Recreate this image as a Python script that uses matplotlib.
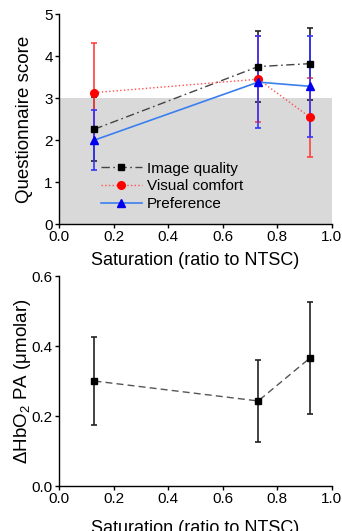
import matplotlib
matplotlib.use("Agg")
import matplotlib.pyplot as plt

plt.rcParams["font.family"] = ["Liberation Sans", "DejaVu Sans"]
plt.rcParams["mathtext.fontset"] = "custom"
plt.rcParams["mathtext.rm"] = "Liberation Sans"
plt.rcParams["mathtext.it"] = "Liberation Sans:italic"

# ── data ──────────────────────────────────────────────────
saturation = [0.13, 0.73, 0.92]

image_quality     = [2.26, 3.75, 3.82]
image_quality_err = [0.76, 0.85, 0.86]
visual_comfort     = [3.13, 3.45, 2.54]
visual_comfort_err = [1.19, 1.03, 0.94]
preference     = [2.00, 3.38, 3.28]
preference_err = [0.71, 1.09, 1.20]

hbo2_pa     = [0.300, 0.243, 0.366]
hbo2_pa_err = [0.126, 0.118, 0.160]

fig = plt.figure(figsize=(3.42, 5.31), dpi=100)
ax1 = fig.add_axes([0.1725, 0.578, 0.798, 0.3955])
ax2 = fig.add_axes([0.1725, 0.0847, 0.798, 0.3955])

# ── top: questionnaire ─────────────────────────────────────
ax = ax1
ax.axhspan(0, 3, color="#d9d9d9", zorder=0, lw=0)
ax.errorbar(saturation, image_quality, yerr=image_quality_err, fmt="none",
            ecolor="#222222", elinewidth=1.2, capsize=2.5, capthick=1.2, zorder=2)
ax.errorbar(saturation, visual_comfort, yerr=visual_comfort_err, fmt="none",
            ecolor="#ff4040", elinewidth=1.2, capsize=2.5, capthick=1.2, zorder=3)
ax.errorbar(saturation, preference, yerr=preference_err, fmt="none",
            ecolor="#3535ff", elinewidth=1.2, capsize=2.5, capthick=1.2, zorder=4)
ax.plot(saturation, image_quality, color="#444444", ls=(0, (6, 2.5, 1.2, 2.5)), lw=1,
        marker="s", ms=5, mfc="black", mec="black", label="Image quality", zorder=5)
ax.plot(saturation, visual_comfort, color="#ff5050", ls=":", lw=1,
        marker="o", ms=5.5, mfc="#ff0000", mec="#ff0000", label="Visual comfort", zorder=5)
ax.plot(saturation, preference, color="#3a7ff0", ls="-", lw=1.2,
        marker="^", ms=5.5, mfc="#0000ee", mec="#0000ee", label="Preference", zorder=6)
ax.set_xlim(0, 1.0)
ax.set_ylim(0, 5)
ax.set_yticks([0, 1, 2, 3, 4, 5])
ax.set_xticks([0.0, 0.2, 0.4, 0.6, 0.8, 1.0])
ax.set_xlabel("Saturation (ratio to NTSC)", fontsize=13)
ax.set_ylabel("Questionnaire score", fontsize=13.5)
ax.xaxis.set_label_coords(0.5, -0.135)
ax.yaxis.set_label_coords(-0.095, 0.5)
ax.legend(loc="lower left", bbox_to_anchor=(0.125, 0.025), frameon=False, fontsize=11,
          handlelength=2.7, handletextpad=0.3, labelspacing=0.25, borderpad=0)

# ── bottom: HbO2 ───────────────────────────────────────────
ax = ax2
ax.errorbar(saturation, hbo2_pa, yerr=hbo2_pa_err, fmt="none",
            ecolor="#222222", elinewidth=1.2, capsize=2.5, capthick=1.2, zorder=2)
ax.plot(saturation, hbo2_pa, color="#555555", ls=(0, (5, 3)), lw=1,
        marker="s", ms=5, mfc="black", mec="black", zorder=3)
ax.set_xlim(0, 1.0)
ax.set_ylim(0, 0.6)
ax.set_yticks([0.0, 0.2, 0.4, 0.6])
ax.set_xticks([0.0, 0.2, 0.4, 0.6, 0.8, 1.0])
ax.set_xlabel("Saturation (ratio to NTSC)", fontsize=13)
ax.set_ylabel(r"ΔHbO$_2$ PA (μmolar)", fontsize=13.5)
ax.xaxis.set_label_coords(0.5, -0.16)
ax.yaxis.set_label_coords(-0.095, 0.5)

for ax in (ax1, ax2):
    ax.spines["top"].set_visible(False)
    ax.spines["right"].set_visible(False)
    ax.spines["left"].set_linewidth(1.0)
    ax.spines["bottom"].set_linewidth(1.0)
    ax.tick_params(direction="out", length=3, width=1, labelsize=11, pad=1.5)

fig.savefig("out.png", dpi=100)
